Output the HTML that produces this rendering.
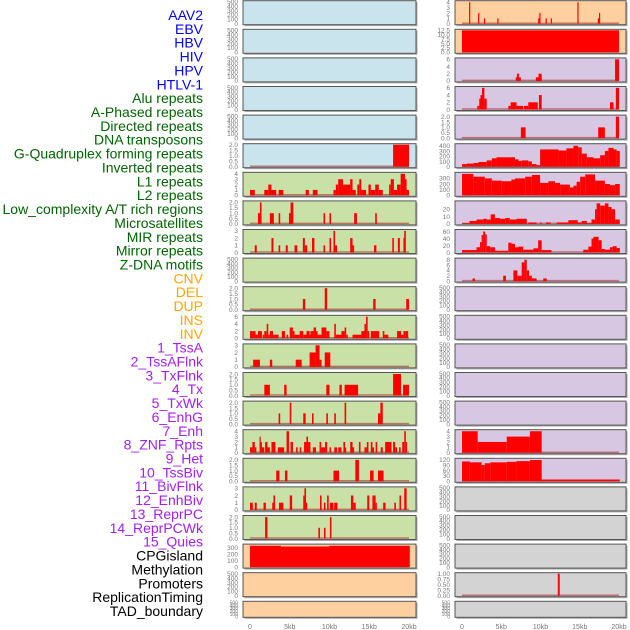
<!DOCTYPE html>
<html><head><meta charset="utf-8"><style>
html,body{margin:0;padding:0;background:#fff;}
svg{display:block;font-family:"Liberation Sans",sans-serif;}
</style></head><body>
<svg id="chart" width="630" height="630" viewBox="0 0 630 630"></svg>
<script>
const labels = ["AAV2","EBV","HBV","HIV","HPV","HTLV-1","Alu repeats","A-Phased repeats","Directed repeats","DNA transposons","G-Quadruplex forming repeats","Inverted repeats","L1 repeats","L2 repeats","Low_complexity A/T rich regions","Microsatellites","MIR repeats","Mirror repeats","Z-DNA motifs","CNV","DEL","DUP","INS","INV","1_TssA","2_TssAFlnk","3_TxFlnk","4_Tx","5_TxWk","6_EnhG","7_Enh","8_ZNF_Rpts","9_Het","10_TssBiv","11_BivFlnk","12_EnhBiv","13_ReprPC","14_ReprPCWk","15_Quies","CPGisland","Methylation","Promoters","ReplicationTiming","TAD_boundary"];
const labelColors = ["#0000ff","#006400","#ffa500","#a020f0","#000000"];
const labelGroups = [6,13,5,15,5];
const xTicks = [0,5,10,15,20];
const xTickLabels = ["0","5kb","10kb","15kb","20kb"];

// left column data [startKb, endKb, value]
const L_gquad = [[18,20,2]];
const L_l1 = [[0,0.6,1],[1.8,2.3,1],[2.3,2.7,2],[2.7,3.3,1],[3.6,4.2,1],[7,7.4,1],[7.9,8.5,1],[10.5,10.8,1],[10.8,11.1,2],[11.1,11.7,3],[11.7,12.6,2],[12.6,12.9,3],[12.9,13.3,1],[13.5,13.75,2],[13.75,14,3],[14,14.6,1],[14.9,15.2,2],[15.2,15.75,1],[15.75,16.2,2],[16.2,16.7,1],[17.5,17.7,2],[17.7,18.1,3],[18.1,18.5,1],[18.5,18.95,2],[18.95,19.5,4],[19.5,19.7,3],[19.7,20,1]];
const L_l2 = [[1,1.25,1],[1.25,1.45,2],[2.5,3.0,1],[3.6,3.8,1],[4.9,5.1,1],[5.1,5.45,2],[9.25,9.45,1],[10,10.2,1],[13.1,13.45,1],[15.75,15.95,1]];
const L_mir = [[0.6,0.85,1],[2.7,2.95,2],[3.6,3.8,1],[4.5,4.75,1],[5.6,5.95,1],[6.65,6.9,2],[6.9,7.2,1],[7.8,8.1,2],[9.25,9.45,1],[10,10.2,2],[10.5,10.7,3],[10.7,10.95,1],[12.6,12.9,2],[12.9,13.1,1],[15.6,15.9,1],[17.9,18.1,2],[18.6,18.85,2],[19.3,19.4,2],[19.4,19.6,3]];
const L_cnv = [[6.65,6.95,1],[9.4,9.7,2],[15.5,15.8,1],[19.65,20,1]];
const L_ins = [[0,0.3,2],[0.3,0.7,2],[0.7,0.8,1],[0.8,1.0,1],[1.0,1.5,2],[1.6,1.8,1],[1.8,2.1,2],[2.1,2.3,4],[2.3,2.5,1],[2.5,2.7,2],[2.7,2.9,2],[2.9,3.1,1],[3.1,3.6,1],[4.0,4.4,2],[4.6,4.8,1],[5.0,5.4,3],[5.4,5.6,2],[5.6,6.25,1],[6.25,6.7,2],[6.7,7.1,1],[7.1,7.5,2],[7.5,7.6,1],[7.6,8.0,2],[8.0,8.3,3],[8.3,8.5,2],[8.5,9.0,1],[9.0,9.6,3],[9.6,10,2],[10.6,10.8,4],[10.8,11.5,1],[11.5,11.9,2],[11.9,12.1,3],[12.1,12.3,1],[12.9,14,1],[14,14.4,2],[14.4,14.6,4],[14.6,14.8,6],[14.8,15,2],[15.2,15.6,2],[15.6,16.25,2],[16.7,16.9,2],[16.9,17.4,1],[18.5,19,2],[19,19.3,1],[19.3,19.6,2],[19.6,19.9,2]];
const L_tssa = [[0.4,1.25,1],[2.5,2.8,1],[5.75,6.5,1],[7.5,8.25,2],[8.25,8.75,3],[8.75,9,1],[9.4,10.1,2]];
const L_tx = [[1.8,2.5,1],[4.3,4.6,1],[9.6,10,1],[11.25,11.55,1],[11.9,13.6,1],[18,19,2],[19.25,20,1]];
const L_txwk = [[3.6,3.8,1],[5,5.2,2],[6.7,7,1],[7.8,8,1],[9.6,9.8,1],[10.6,10.8,1],[11.9,12.1,2],[16.1,16.4,1],[16.4,16.7,2]];
const L_enh = [[0,0.3,1],[0.3,0.6,2],[0.6,0.8,1],[1.2,1.3,3],[1.3,1.5,2],[1.5,1.8,1],[1.9,2.2,2],[2.2,2.5,1],[2.7,3.2,2],[3.5,4.3,1],[4.6,4.9,4],[5.1,5.4,2],[5.8,6.0,1],[6.25,6.45,1],[6.8,7.1,2],[7.1,7.3,3],[7.3,7.6,2],[7.9,8.3,1],[8.75,8.95,2],[8.95,9.45,1],[9.45,9.7,2],[10,10.2,1],[10.6,10.95,1],[11.1,11.5,1],[11.75,11.95,2],[11.95,12.1,1],[12.6,12.9,2],[12.9,13.1,1],[13.7,13.9,2],[14.4,14.7,1],[14.7,14.9,2],[15.2,15.4,2],[15.4,15.6,1],[15.8,16,2],[16.45,16.7,1],[17,17.8,2],[18,18.25,2],[18.25,18.5,1],[18.75,18.95,1],[19.15,19.4,2],[19.4,19.6,4],[19.6,19.7,2]];
const L_het = [[3.3,3.7,1],[4.4,4.7,1],[10.5,11.2,1],[13.25,13.7,2],[15.1,15.55,1],[16.1,16.8,1]];
const L_tssbiv = [[0,0.35,1],[0.6,0.85,1],[1.7,2,1],[2.8,2.95,1],[2.95,3.15,2],[3.65,4.2,1],[5,5.3,2],[6.7,6.85,2],[6.85,7.05,3],[7.05,7.2,1],[8.8,9,2],[9.3,9.5,1],[9.7,9.9,2],[10.05,10.5,1],[10.6,11,1],[12.7,13,2],[13,13.3,1],[14.75,15,2],[15.4,15.8,2],[15.8,15.95,1],[16.75,17.05,1],[18.15,18.35,1],[18.8,19,2],[19.4,19.7,3]];
const L_enhbiv = [[1.9,2.2,2],[8.6,8.8,1],[9.3,9.5,1],[10.05,10.25,2]];
const L_cpg = [[0,3.9,330],[3.9,10,318],[10,20.1,330]];

// right column data
const R_aav2 = [[0.9,1.05,4],[2.05,2.2,2],[2.8,2.95,1],[4.5,4.65,1],[9.7,9.85,1],[9.85,10,2],[10.65,10.8,1],[11.3,11.45,1],[14.7,14.85,4],[17.3,17.45,1],[17.45,17.6,2]];
const R_ebv = [[0,20,12.5]];
const R_hbv = [[6.85,7.5,1],[7,7.25,2],[9.4,10.15,1],[9.75,10.15,2],[19.5,20,6]];
const R_hiv = [[1.95,2.2,1],[2.2,2.5,3],[2.35,2.55,4],[2.55,2.85,6],[2.85,3.15,3],[5.9,6.2,1],[6.2,6.95,2],[6.95,7.8,1],[7.9,8.45,1],[8.45,9.65,2],[9.8,10.15,4],[18.85,19.3,2],[19.6,20,6]];
const R_hpv = [[7.5,8.1,1],[17.35,18.2,1],[19.6,20,2]];
const R_gquad = [[0,0.6,50],[0.6,1.45,60],[1.45,2.1,70],[2.1,3.15,90],[3.15,3.8,120],[3.8,4.4,160],[4.4,6.75,180],[6.75,7.2,140],[7.2,7.6,110],[7.6,8.45,120],[8.45,8.9,100],[8.9,9.5,50],[9.5,9.95,30],[9.95,12.3,330],[12.3,13.3,310],[13.3,14.2,350],[14.2,14.8,400],[14.8,15.25,370],[15.25,15.9,250],[15.9,16.75,180],[16.75,17.6,160],[17.6,18.2,220],[18.2,18.65,300],[18.65,19.3,360],[19.3,19.7,330],[19.7,20.1,300]];
const R_l1 = [[0,1.45,380],[1.45,2.9,330],[2.9,3.8,300],[3.8,5.05,260],[5.05,6.3,250],[6.3,6.75,280],[6.75,8.05,300],[8.05,8.9,330],[8.9,9.95,360],[9.95,11,220],[11,11.85,250],[11.85,12.5,220],[12.5,13.75,190],[13.75,14.2,140],[14.2,14.6,170],[14.6,15.05,240],[15.05,15.7,330],[15.7,16.95,370],[16.95,18.2,260],[18.2,18.85,200],[18.85,19.5,180],[19.5,20.1,200]];
const R_lowc = [[0,0.95,1],[0.95,1.85,4],[1.85,2.7,6],[2.7,3.15,7],[3.15,3.65,6],[3.65,4.2,13],[4.2,4.85,8],[4.85,5.5,7],[5.5,6.1,8],[6.1,6.95,6],[6.95,8.25,7],[8.45,9.5,2],[9.95,10.15,2],[10.7,11.3,2],[12.05,13.55,2],[13.55,14.75,5],[14.75,15.25,2],[15.25,15.9,4],[15.9,16.5,1],[16.5,16.95,6],[16.95,17.15,20],[17.15,17.6,28],[17.6,18.2,25],[18.2,18.65,28],[18.65,19.05,23],[19.05,19.5,20],[19.5,20.1,6]];
const R_mir = [[0,1.85,7],[1.85,2.3,15],[2.3,2.5,30],[2.5,2.7,50],[2.7,2.95,60],[2.95,3.15,52],[3.15,3.6,18],[3.6,4.2,15],[4.2,5.9,5],[5.9,6.3,28],[6.3,6.75,25],[6.75,7.2,15],[7.2,7.8,17],[7.8,9.1,8],[9.1,9.7,12],[9.7,10.15,35],[10.15,11.4,7],[15.45,16.1,8],[16.1,16.5,17],[16.5,16.75,40],[16.75,17.4,45],[17.4,17.8,35],[17.8,18.2,10],[18.2,18.85,8],[18.85,19.2,15],[19.2,19.7,18],[19.7,20.1,13]];
const R_zdna = [[1.35,1.65,1],[5.25,5.6,2],[6.55,7.05,4],[7.05,7.6,2],[7.6,7.95,7],[7.95,8.25,8],[8.25,8.55,4],[8.55,8.9,2],[8.9,9.5,1],[10.35,10.8,1]];
const R_enh = [[0,2,4],[2,5.7,2],[5.7,8.65,3],[8.65,10.15,4]];
const R_het = [[0,1.0,110],[1.0,2.5,105],[2.5,2.9,90],[2.9,3.6,100],[3.6,5.7,105],[5.7,6.95,108],[6.95,8.65,112],[8.65,10.15,118],[10.15,20.1,10]];
const R_prom = [[12.2,12.45,1]];

const E = null;
const T500 = [0,100,200,300,400,500];
const C = {blue:"#c9e4ec",green:"#c9e1a6",orange:"#ffd09f",purple:"#d7c7e3",gray:"#d3d3d3"};
const leftTracks = [
 ["aav2",C.blue,500,T500,E],["ebv",C.blue,500,T500,E],["hbv",C.blue,500,T500,E],["hiv",C.blue,500,T500,E],["hpv",C.blue,500,T500,E],
 ["gquad",C.blue,2,[0,0.5,1,1.5,2],L_gquad,1],
 ["l1",C.green,4.1,[0,1,2,3,4],L_l1],["l2",C.green,2.05,[0,0.5,1,1.5,2],L_l2,1],["mir",C.green,3.05,[0,1,2,3],L_mir],
 ["zdna",C.green,500,T500,E],["cnv",C.green,2.05,[0,0.5,1,1.5,2],L_cnv,1],["ins",C.green,6.1,[0,2,4,6],L_ins],
 ["tssa",C.green,3.05,[0,1,2,3],L_tssa],["tx",C.green,2.05,[0,0.5,1,1.5,2],L_tx,1],["txwk",C.green,2.05,[0,0.5,1,1.5,2],L_txwk,1],
 ["enh",C.green,4.1,[0,1,2,3,4],L_enh],["het",C.green,2.05,[0,0.5,1,1.5,2],L_het,1],["tssbiv",C.green,3.05,[0,1,2,3],L_tssbiv],
 ["enhbiv",C.green,2.05,[0,0.5,1,1.5,2],L_enhbiv,1],["cpg",C.orange,340,[0,100,200,300],L_cpg],
 ["methylation",C.orange,500,T500,E],["tad",C.orange,500,T500,E]];
const rightTracks = [
 ["aav2",C.orange,4.1,[0,1,2,3,4],R_aav2],["ebv",C.orange,12.5,[0,2.5,5,7.5,10,12.5],R_ebv,1],
 ["hbv",C.purple,6.1,[0,2,4,6],R_hbv],["hiv",C.purple,6.1,[0,2,4,6],R_hiv],["hpv",C.purple,2.05,[0,0.5,1,1.5,2],R_hpv,1],
 ["gquad",C.purple,420,[0,100,200,300,400],R_gquad],["l1",C.purple,390,[0,100,200,300],R_l1],
 ["lowc",C.purple,30,[0,10,20],R_lowc],["mir",C.purple,63,[0,20,40,60],R_mir],["zdna",C.purple,8.2,[0,2,4,6,8],R_zdna],
 ["cnv",C.purple,500,T500,E],["ins",C.purple,500,T500,E],["tssa",C.purple,500,T500,E],["tx",C.purple,500,T500,E],["txwk",C.purple,500,T500,E],
 ["enh",C.purple,4.1,[0,1,2,3,4],R_enh],["het",C.purple,122,[0,30,60,90,120],R_het],
 ["tssbiv",C.gray,500,T500,E],["enhbiv",C.gray,500,T500,E],["cpg",C.gray,500,T500,E],
 ["promoters",C.gray,1,[0,0.25,0.5,0.75,1],R_prom,2],["tad",C.gray,500,T500,E]];

const NS="http://www.w3.org/2000/svg";
const svg=document.getElementById('chart');
function mk(tag,attrs,parent){const e=document.createElementNS(NS,tag);for(const k in attrs)e.setAttribute(k,attrs[k]);(parent||svg).appendChild(e);return e;}

// labels
let li=0;
labelGroups.forEach((n,g)=>{for(let k=0;k<n;k++){
 const t=mk('text',{x:203,y:15+li*13.86+5,'text-anchor':'end','font-size':14,fill:labelColors[g]});
 t.textContent=labels[li];
 
 
 li++;}});

function drawColumn(tracks,px0,px1,x0,x20,tickX,side){
 const xs=kb=>x0+(x20-x0)*kb/20;
 tracks.forEach((tr,i)=>{
  const [name,bg,ymax,ticks,segs,dec]=tr;
  const top=i*28.6+0.7, h=(i===21)?16:24;
  const g=mk('g',{});
  
  
  mk('rect',{x:px0+1.5,y:top+1.5,width:px1-px0,height:h,fill:'#aaa'},g);
  mk('rect',{x:px0,y:top,width:px1-px0,height:h,fill:bg},g);
  const ys=v=>top+h-1-(h-2)*v/ymax;
  if(segs){
   mk('line',{x1:xs(0),x2:xs(20),y1:ys(0)-0.5,y2:ys(0)-0.5,stroke:'#b03030','stroke-width':1.5,opacity:0.6},g);
   segs.forEach(s=>{
    const r=mk('rect',{x:xs(s[0]),y:ys(s[2]),width:Math.max(1.2,xs(s[1])-xs(s[0])),height:ys(0)-ys(s[2]),fill:'#ff0000'},g);
    
    
   });
  }
  mk('rect',{x:px0,y:top,width:px1-px0,height:h,fill:'none',stroke:'#555','stroke-width':1},g);
  ticks.forEach(v=>{
   const t=mk('text',{x:tickX,y:ys(v)+2.3,'text-anchor':'end','font-size':(h<20?5:6.5),fill:'#777'},g);
   t.textContent=dec?v.toFixed(dec):String(v);
  });
 });
 const ax=mk('g',{});
 
 
 xTicks.forEach((v,k)=>{
  const t=mk('text',{x:xs(v),y:629,'text-anchor':'middle','font-size':7,fill:'#777'},ax);
  t.textContent=xTickLabels[k];
 });
}
drawColumn(leftTracks,243,416,250,409,238,'left');
drawColumn(rightTracks,455,626,462,619,450,'right');
</script>
</body></html>
